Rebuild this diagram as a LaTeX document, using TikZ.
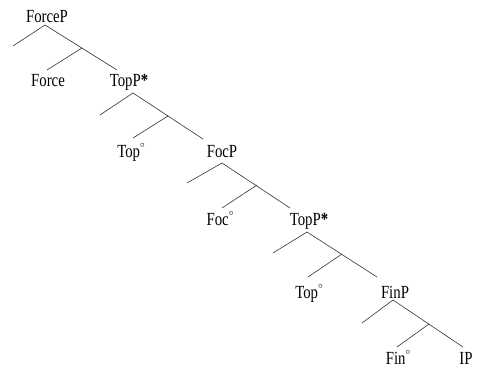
\documentclass[tikz,border=0pt]{standalone}
\usepackage{fontspec}
\setmainfont{Liberation Serif}[FakeStretch=0.8]
\newcommand{\dg}{\raisebox{1.1ex}{\fontsize{9}{9}\selectfont$\circ$}}
\begin{document}
\begin{tikzpicture}[x=1pt,y=-1pt,
  lbl/.style={anchor=base,inner sep=0pt,font=\fontsize{18.5}{20}\selectfont},
  br/.style={line width=0.6pt,black!80}]
\useasboundingbox (0,0) rectangle (477,370);
% labels
\node[lbl] (forcep) at (47,22) {ForceP};
\node[lbl] (force) at (48,86) {Force};
\node[lbl] (topp1) at (129,86) {TopP\textbf{*}};
\node[lbl] (top1) at (131,157) {Top\dg};
\node[lbl] (focp) at (222,157) {FocP};
\node[lbl] (foc) at (220,225) {Foc\dg};
\node[lbl] (topp2) at (309,225) {TopP\textbf{*}};
\node[lbl] (top2) at (309,298) {Top\dg};
\node[lbl] (finp) at (395,298) {FinP};
\node[lbl] (fin) at (398,364) {Fin\dg};
\node[lbl] (ip) at (466,364) {IP};
% level 1
\coordinate (a1) at (45,25); \coordinate (l1) at (13,46); \coordinate (m1) at (82,48);
\coordinate (ml1) at (47,70); \coordinate (r1) at (117,70);
% level 2
\coordinate (a2) at (133,93); \coordinate (l2) at (100,115); \coordinate (m2) at (168,116);
\coordinate (ml2) at (133,138); \coordinate (r2) at (203,139);
% level 3
\coordinate (a3) at (222,163); \coordinate (l3) at (187,183); \coordinate (m3) at (257,185);
\coordinate (ml3) at (222,208); \coordinate (r3) at (290,208);
% level 4
\coordinate (a4) at (307,232); \coordinate (l4) at (273,253); \coordinate (m4) at (342,254);
\coordinate (ml4) at (308,277); \coordinate (r4) at (377,277);
% level 5
\coordinate (a5) at (393,300); \coordinate (l5) at (362,323); \coordinate (m5) at (429,324);
\coordinate (ml5) at (397,347); \coordinate (r5) at (463,347);
\foreach \i in {1,...,5}{
  \draw[br] (l\i) -- (a\i) -- (r\i);
  \draw[br] (ml\i) -- (m\i);
}
\end{tikzpicture}
\end{document}
